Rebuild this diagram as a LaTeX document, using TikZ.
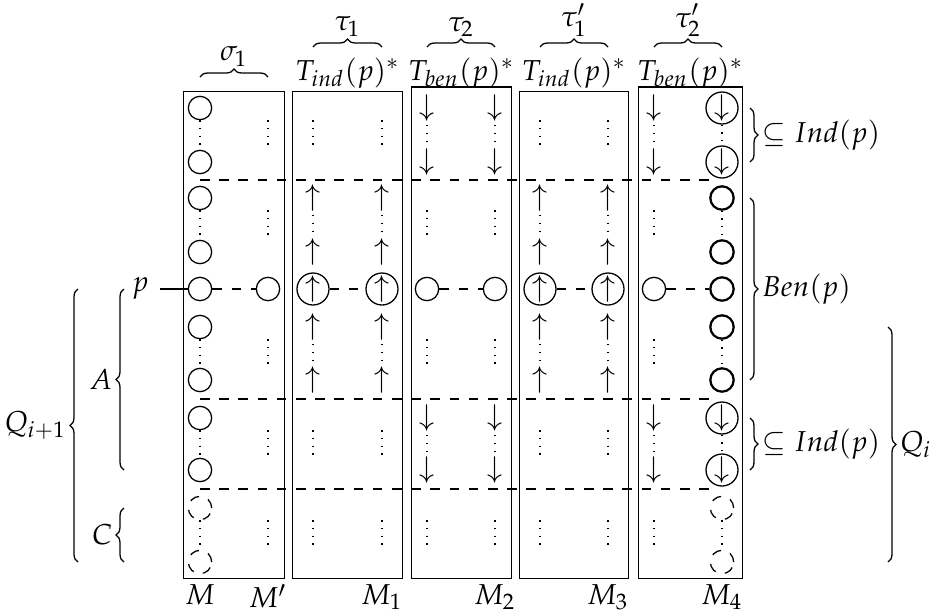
\documentclass[tikz,border=0pt]{standalone}
\usepackage{mathpazo}
\usetikzlibrary{positioning,fit,calc,decorations.pathreplacing}
\tikzset{
  cell/.style={circle,inner sep=0pt,minimum size=7.3pt},
  ring/.style={cell,draw},
  bigring/.style={circle,draw,inner sep=0pt,minimum size=10pt},
  arr/.style={inner sep=1pt},
  box/.style={draw,inner sep=1.2pt},
  brace/.style={decorate,decoration={brace,amplitude=2.5pt}},
  lab/.style={inner sep=1pt},
}
\begin{document}
\begin{tikzpicture}[x=0.3125pt,y=-0.3125pt,font=\small]
  \useasboundingbox (0,0) rectangle (931,613);
  % columns and rows
  \foreach \c/\x in {0/200,1/268,2/313,3/382,4/427,5/495,6/540,7/608,8/654,9/722}
    \coordinate (x\c) at (\x,0);
  \foreach \r/\y in {1/108,2/162,3/198,4/252,5/289,6/327,7/380,8/418,9/470,10/508,11/562}
    \coordinate (y\r) at (0,\y);
  % M and M'
  \foreach \r in {1,...,9} \node[ring] (n0-\r) at (x0 |- y\r) {};
  \foreach \r in {10,11} \node[ring,dashed] (n0-\r) at (x0 |- y\r) {};
  \foreach \r in {1,2,3,4,6,7,8,9,10,11} \node[cell] (n1-\r) at (x1 |- y\r) {};
  \node[ring] (n1-5) at (x1 |- y5) {};
  % M1, M3
  \foreach \c in {2,3,6,7}{
    \foreach \r in {1,2,8,9,10,11} \node[cell] (n\c-\r) at (x\c |- y\r) {};
    \foreach \r in {3,4,6,7} \node[arr] (n\c-\r) at (x\c |- y\r) {$\uparrow$};
    \node[bigring] (n\c-5) at (x\c |- y5) {$\uparrow$};}
  % M2, left of M4
  \foreach \c in {4,5,8}{
    \foreach \r in {3,4,6,7,10,11} \node[cell] (n\c-\r) at (x\c |- y\r) {};
    \foreach \r in {1,2,8,9} \node[arr] (n\c-\r) at (x\c |- y\r) {$\downarrow$};
    \node[ring] (n\c-5) at (x\c |- y5) {};}
  % right of M4
  \foreach \r in {1,2,8,9} \node[bigring] (n9-\r) at (x9 |- y\r) {$\downarrow$};
  \foreach \r in {3,...,7} \node[ring,line width=0.7pt] (n9-\r) at (x9 |- y\r) {};
  \foreach \r in {10,11} \node[ring,dashed] (n9-\r) at (x9 |- y\r) {};
  % dots
  \foreach \c in {0,...,9}
    \foreach \a/\b in {1/2,3/4,6/7,8/9,10/11}
      \draw[dotted] (n\c-\a) -- (n\c-\b);
  % the row of p
  \foreach \a/\b in {0/1,2/3,4/5,6/7,8/9}
    \draw[dashed] (n\a-5) -- (n\b-5);
  % separators
  \foreach \a/\b [count=\i] in {2/3,7/8,9/10}{
    \coordinate (h\i) at ($(n0-\a)!0.5!(n0-\b)$);
    \draw[dashed,shorten >=3.1pt] (h\i) -- (h\i -| n9-1);}
  % boxes
  \node[box,fit=(n0-1)(n1-11)] (bM) {};
  \node[box,fit=(n2-1)(n3-11)(n2-5)(n3-5)] (bM1) {};
  \node[box,fit=(n4-1)(n5-11)] (bM2) {};
  \node[box,fit=(n6-1)(n7-11)(n6-5)(n7-5)] (bM3) {};
  \node[box,fit=(n8-1)(n9-11)(n9-1)] (bM4) {};
  % labels on top
  \coordinate (top) at (0,80);
  \node[anchor=base] (t1) at (bM1.north |- top) {$T_{ind}(p)^*$};
  \node[anchor=base] (t2) at (bM2.north |- top) {$T_{ben}(p)^*$};
  \node[anchor=base] (t3) at (bM3.north |- top) {$T_{ind}(p)^*$};
  \node[anchor=base] (t4) at (bM4.north |- top) {$T_{ben}(p)^*$};
  \coordinate (sb) at (0,77); \coordinate (tb) at (0,47);
  \draw[brace] (x0 |- sb) -- (x1 |- sb) node[midway,above=2pt,lab] (s1) {$\sigma_1$};
  \draw[brace] (x2 |- tb) -- (x3 |- tb) node[midway,above=2pt,lab] (u1) {$\tau_1$};
  \draw[brace] (x4 |- tb) -- (x5 |- tb) node[midway,above=2pt,lab] (u2) {$\tau_2$};
  \draw[brace] (x6 |- tb) -- (x7 |- tb) node[midway,above=2pt,lab] (u3) {$\tau_1'$};
  \draw[brace] (x8 |- tb) -- (x9 |- tb) node[midway,above=2pt,lab] (u4) {$\tau_2'$};
  % labels below
  \foreach \b/\c/\t in {bM/0/M,bM/1/M',bM1/3/M_1,bM2/5/M_2,bM3/7/M_3,bM4/9/M_4}
    \node[below,inner sep=1.5pt] (l\c) at (\b.south -| x\c) {$\t$};
  % right braces
  \coordinate (rb) at (750,0); \coordinate (qb) at (888,0);
  \draw[brace] (rb |- n9-1) -- (rb |- n9-2) node[midway,right=2.5pt,lab] (i1) {$\subseteq Ind(p)$};
  \draw[brace] (rb |- n9-3) -- (rb |- n9-7) node[midway,right=2.5pt,lab] (ben) {$Ben(p)$};
  \draw[brace] (rb |- n9-8) -- (rb |- n9-9) node[midway,right=2.5pt,lab] (i2) {$\subseteq Ind(p)$};
  \draw[brace] (qb |- n9-6) -- (qb |- n9-11) node[midway,right=2.5pt,lab] (qi) {$Q_i$};
  % left braces
  \coordinate (lb) at (124,0); \coordinate (qlb) at (78,0);
  \draw[brace] (lb |- n0-9) -- (lb |- n0-5) node[midway,left=2.5pt,lab] (a) {$A$};
  \draw[brace] (lb |- n0-11) -- (lb |- n0-10) node[midway,left=2.5pt,lab] (cc) {$C$};
  \draw[brace] (qlb |- n0-11) -- (qlb |- n0-5) node[midway,left=2.5pt,lab] (q) {$Q_{i+1}$};
  \node[left=8.7pt of n0-5] (lp) {$p$};
  \draw (lp) -- (n0-5);
\end{tikzpicture}
\end{document}
